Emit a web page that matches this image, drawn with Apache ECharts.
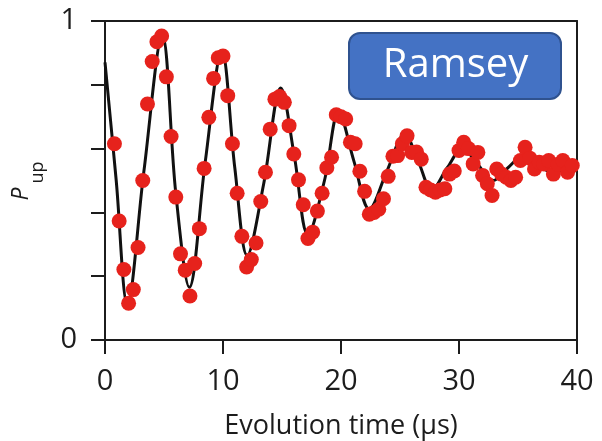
<!DOCTYPE html>
<html>
<head>
<meta charset="utf-8">
<script src="https://cdn.jsdelivr.net/npm/echarts@6/dist/echarts.min.js"></script>
<style>
  html, body { margin: 0; padding: 0; background: #fff; }
  #chart { width: 602px; height: 441px; }
</style>
</head>
<body>
<div id="chart"></div>
<script>
// Measured Ramsey fringe: evolution time (µs) and spin-up probability
const timeUs = [
  0.8, 1.2, 1.6, 2.0, 2.4, 2.8, 3.2, 3.6, 4.0, 4.4,
  4.8, 5.2, 5.6, 6.0, 6.4, 6.8, 7.2, 7.6, 8.0, 8.4,
  8.8, 9.2, 9.6, 10.0, 10.4, 10.8, 11.2, 11.6, 12.0, 12.4,
  12.8, 13.2, 13.6, 14.0, 14.4, 14.8, 15.2, 15.6, 16.0, 16.4,
  16.8, 17.2, 17.6, 18.0, 18.4, 18.8, 19.2, 19.6, 20.0, 20.4,
  20.8, 21.2, 21.6, 22.0, 22.4, 22.8, 23.2, 23.6, 24.0, 24.4,
  24.8, 25.2, 25.6, 26.0, 26.4, 26.8, 27.2, 27.6, 28.0, 28.4,
  28.8, 29.2, 29.6, 30.0, 30.4, 30.8, 31.2, 31.6, 32.0, 32.4,
  32.8, 33.2, 33.6, 34.0, 34.4, 34.8, 35.2, 35.6, 36.0, 36.4,
  36.8, 37.2, 37.6, 38.0, 38.4, 38.8, 39.2, 39.6
];
const pUp = [
  0.615, 0.373, 0.221, 0.115, 0.158, 0.29, 0.50, 0.74, 0.873, 0.935,
  0.953, 0.825, 0.638, 0.448, 0.27, 0.219, 0.138, 0.24, 0.349, 0.538,
  0.698, 0.82, 0.885, 0.89, 0.766, 0.615, 0.46, 0.325, 0.229, 0.252,
  0.304, 0.434, 0.526, 0.661, 0.755, 0.763, 0.745, 0.672, 0.583, 0.502,
  0.424, 0.318, 0.338, 0.404, 0.46, 0.54, 0.573, 0.706, 0.70, 0.693,
  0.62, 0.615, 0.529, 0.466, 0.394, 0.40, 0.41, 0.443, 0.513, 0.576,
  0.578, 0.615, 0.64, 0.588, 0.589, 0.567, 0.479, 0.47, 0.463, 0.47,
  0.474, 0.52, 0.53, 0.594, 0.62, 0.60, 0.552, 0.588, 0.516, 0.49,
  0.453, 0.536, 0.52, 0.51, 0.50, 0.51, 0.5625, 0.604, 0.57, 0.536,
  0.557, 0.552, 0.5625, 0.52, 0.55, 0.5625, 0.526, 0.547
];

// Damped-oscillation fit curve, sampled at its turning points and crossings
const fitT = [
  0, 0.95, 1.9, 3.3, 4.85, 6.0, 7.15, 8.5, 9.9, 11.0,
  12.05, 13.45, 14.9, 16.05, 17.2, 18.6, 19.8, 21.1, 22.4, 23.9,
  25.4, 26.55, 27.7, 29.0, 30.3, 31.6, 32.9, 34.15, 35.4, 36.65,
  37.9, 40
];
const fitP = [
  0.87, 0.50, 0.11, 0.53, 0.955, 0.46, 0.165, 0.56, 0.905, 0.54,
  0.265, 0.49, 0.79, 0.575, 0.33, 0.50, 0.715, 0.56, 0.41, 0.53,
  0.645, 0.56, 0.47, 0.54, 0.60, 0.55, 0.50, 0.54, 0.575, 0.55,
  0.525, 0.56
];

// Axis ticks
const xTicks = [0, 10, 20, 30, 40];
const yLabelled = [0, 1];

const points = timeUs.map((t, i) => [t, pUp[i]]);
const fit = fitT.map((t, i) => [t, fitP[i]]);

const INK = '#1c1c1c';
const FONT = '"Open Sans", Lato, sans-serif';

const chart = echarts.init(document.getElementById('chart'), null, { renderer: 'canvas' });

chart.setOption({
  animation: false,
  backgroundColor: '#ffffff',
  grid: {
    left: 105, right: 25, top: 21, bottom: 101,
    containLabel: false, outerBoundsMode: 'none'
  },
  xAxis: [
    {
      type: 'value',
      min: xTicks[0],
      max: xTicks[xTicks.length - 1],
      interval: 10,
      position: 'bottom',
      name: 'Evolution time (µs)',
      nameLocation: 'middle',
      nameGap: 73,
      nameTextStyle: { fontFamily: FONT, fontSize: 27, color: INK },
      axisLine: { show: true, onZero: false, lineStyle: { color: INK, width: 2 } },
      axisTick: { show: true, inside: false, length: 14, lineStyle: { color: INK, width: 2 } },
      axisLabel: { margin: 27, fontFamily: FONT, fontSize: 29, color: INK },
      splitLine: { show: false }
    },
    {
      type: 'value',
      min: 0, max: 40,
      position: 'top',
      axisLine: { show: true, onZero: false, lineStyle: { color: INK, width: 2 } },
      axisTick: { show: false },
      axisLabel: { show: false },
      splitLine: { show: false }
    }
  ],
  yAxis: [
    {
      type: 'value',
      min: 0, max: 1, interval: 0.2,
      position: 'left',
      axisLine: { show: true, onZero: false, lineStyle: { color: INK, width: 2 } },
      axisTick: { show: true, inside: false, length: 14, lineStyle: { color: INK, width: 2 } },
      axisLabel: {
        margin: 28, fontFamily: FONT, fontSize: 29, color: INK,
        formatter: v => (yLabelled.some(y => Math.abs(y - v) < 1e-9) ? String(Math.round(v)) : '')
      },
      splitLine: { show: false }
    },
    {
      type: 'value',
      min: 0, max: 1,
      position: 'right',
      axisLine: { show: true, onZero: false, lineStyle: { color: INK, width: 2 } },
      axisTick: { show: false },
      axisLabel: { show: false },
      splitLine: { show: false }
    }
  ],
  series: [
    {
      name: 'fit',
      type: 'line',
      data: fit,
      smooth: 0.35,
      showSymbol: false,
      lineStyle: { color: '#111111', width: 3 },
      z: 2
    },
    {
      name: 'data',
      type: 'scatter',
      data: points,
      symbol: 'circle',
      symbolSize: 15,
      itemStyle: { color: '#e6221c', opacity: 1 },
      z: 3
    }
  ],
  graphic: [
    {
      // Y-axis title, P with subscript "up", reading bottom to top
      type: 'group',
      x: 0, y: 180.5,
      rotation: Math.PI / 2,
      children: [
        {
          type: 'text',
          x: -20, y: 21,
          style: {
            text: 'P', fontFamily: FONT, fontStyle: 'italic', fontSize: 23,
            fill: INK, align: 'left', verticalAlign: 'middle'
          }
        },
        {
          type: 'text',
          x: -3, y: 38,
          style: {
            text: 'up', fontFamily: FONT, fontSize: 18,
            fill: INK, align: 'left', verticalAlign: 'middle'
          }
        }
      ]
    },
    {
      type: 'group',
      z: 10,
      children: [
        {
          type: 'rect',
          shape: { x: 349, y: 33, width: 212, height: 66, r: 11 },
          style: { fill: '#4472c4', stroke: '#2f528f', lineWidth: 2 }
        },
        {
          type: 'text',
          x: 455.5, y: 66,
          style: {
            text: 'Ramsey', fontFamily: FONT, fontSize: 40,
            fill: '#ffffff', align: 'center', verticalAlign: 'middle'
          }
        }
      ]
    }
  ]
});
</script>
</body>
</html>
